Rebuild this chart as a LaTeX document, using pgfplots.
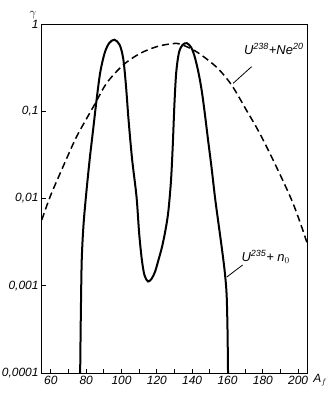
\documentclass[border=0pt]{standalone}
\usepackage{fontspec}
\setmainfont{Liberation Sans}
\usepackage{pgfplots}
\pgfplotsset{compat=1.18}
\newcommand{\sups}[1]{\textsuperscript{\fontsize{9}{9}\selectfont #1}}
\begin{document}
\begin{tikzpicture}[x=1bp,y=1bp]
\path[use as bounding box] (-42bp,-21bp) rectangle (288bp,373bp);
\begin{axis}[
  scale only axis, width=265bp, height=349bp,
  at={(0,0)}, anchor=south west,
  ymode=log, xmin=55, xmax=205, ymin=1e-4, ymax=1,
  axis line style={line width=1bp},
  xtick={60,80,...,200}, xticklabels={60,80,100,120,140,160,180,200},
  minor xtick={70,90,...,190},
  ytick={1e-4,1e-3,1e-2,1e-1,1},
  yticklabels={{0,0001},{0,001},{0,01},{0,1},{1}},
  yminorticks=false,
  xtick pos=bottom, ytick pos=left, tick align=inside,
  major tick length=4bp, minor tick length=4bp,
  tick style={line width=0.8bp, black},
  tick label style={font=\itshape\fontsize{12}{12}\selectfont},
  clip mode=individual,
]
\addplot[line width=2bp, smooth, tension=0.5] coordinates {
(76.5,5e-5) (76.6,1e-4) (77.0,5e-4) (77.5,0.002) (78.5,0.005) (80,0.0112)
(82,0.0282) (84,0.063) (86,0.141) (88,0.282) (90.5,0.468) (93,0.603)
(96,0.661) (99,0.575) (101,0.398) (102.5,0.2) (104,0.0794) (106,0.0282)
(108.5,0.0105) (110,0.00398) (111.5,0.002) (113,0.00132) (115,0.00112)
(117,0.0012) (119,0.00145) (121,0.002) (123,0.00282) (125,0.00447)
(126.5,0.00708) (128,0.0158) (129,0.0398) (130,0.126) (131,0.282)
(132.5,0.468) (134.5,0.575) (137,0.603) (139.5,0.537) (141.5,0.417)
(143.5,0.282) (145.3,0.178) (147,0.1) (149,0.0468) (151,0.0224)
(153,0.01) (155,0.005) (157,0.00251) (158.5,0.00141) (159.5,0.000794)
(160,0.000316) (160.3,1e-4) (160.4,5e-5)
};
\addplot[line width=1.5bp, smooth, dash pattern=on 7bp off 4bp] coordinates {
(54.9,0.0057) (59.6,0.0105) (65.3,0.0195) (72.8,0.043) (76.6,0.061)
(84.1,0.113) (91.6,0.21) (101,0.34) (110.5,0.46) (119.9,0.55) (127.4,0.59)
(133,0.59) (142.5,0.48) (153.8,0.32) (162.3,0.20) (170.7,0.103)
(178.2,0.056) (187.7,0.023) (197.1,0.0088) (204.6,0.0033) (206,0.0025)
};
\draw[line width=0.8bp] (axis cs:173.6,0.324) -- (axis cs:163.2,0.209);
\draw[line width=0.8bp] (axis cs:168.6,0.00173) -- (axis cs:159.6,0.00126);
\node[font=\itshape\fontsize{13}{13}\selectfont, inner sep=0pt] at (axis cs:186.2,0.517) {U\sups{238}+Ne\sups{20}};
\node[font=\itshape\fontsize{13}{13}\selectfont, inner sep=0pt] at (axis cs:181.6,0.00214) {U\sups{235}+ \textit{n}$_0$};
\node[font=\fontsize{13}{13}\selectfont, inner sep=0pt] at (rel axis cs:-0.034,1.026) {$\gamma$};
\node[font=\itshape\fontsize{12}{12}\selectfont, inner sep=0pt] at (rel axis cs:1.049,-0.02) {A$_f$};
\end{axis}
\end{tikzpicture}
\end{document}
